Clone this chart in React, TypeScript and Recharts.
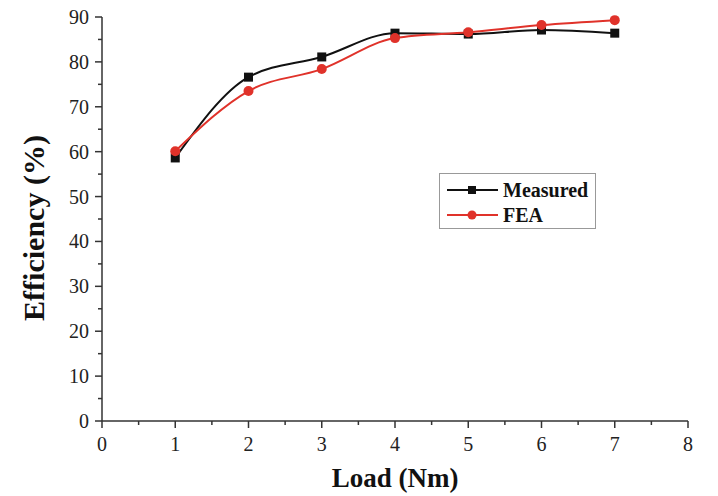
import { LineChart, Line, XAxis, YAxis, Legend } from 'recharts';

// load points (Nm) and efficiency values (%)
const loads = [1, 2, 3, 4, 5, 6, 7];
const measured = [58.6, 76.6, 81.1, 86.4, 86.2, 87.1, 86.4];
const fea = [60.1, 73.5, 78.4, 85.3, 86.6, 88.2, 89.3];

// major + minor ticks
const xTicks = [0, 0.5, 1, 1.5, 2, 2.5, 3, 3.5, 4, 4.5, 5, 5.5, 6, 6.5, 7, 7.5, 8];
const yTicks = [0, 5, 10, 15, 20, 25, 30, 35, 40, 45, 50, 55, 60, 65, 70, 75, 80, 85, 90];

const data = loads.map((load, i) => ({ load, measured: measured[i], fea: fea[i] }));

const FONT = '"Liberation Serif", "Times New Roman", serif';
const AXIS = '#333';
const RED = '#e0322a';
const BLACK = '#111';

function XTick({ x, y, payload }: any) {
  const v = payload.value;
  const major = Number.isInteger(v);
  const ay = y - 16;
  return (
    <g>
      <line x1={x} x2={x} y1={ay} y2={ay + (major ? 7 : 4)} stroke={AXIS} strokeWidth={1.5} />
      {major && (
        <text x={x} y={ay + 30} textAnchor="middle" fontSize={20} fill="#222" fontFamily={FONT}>
          {v}
        </text>
      )}
    </g>
  );
}

function YTick({ x, y, payload }: any) {
  const v = payload.value;
  const major = v % 10 === 0;
  const ax = x + 14;
  return (
    <g>
      <line x1={ax} x2={ax - (major ? 7 : 4)} y1={y} y2={y} stroke={AXIS} strokeWidth={1.5} />
      {major && (
        <text x={ax - 13} y={y + 7} textAnchor="end" fontSize={20} fill="#222" fontFamily={FONT}>
          {v}
        </text>
      )}
    </g>
  );
}

function SquareDot(props: any) {
  const { cx, cy, index } = props;
  return <rect key={`sq-${index}`} x={cx - 4.5} y={cy - 4.5} width={9} height={9} fill={BLACK} />;
}

function CircleDot(props: any) {
  const { cx, cy, index } = props;
  return <circle key={`ci-${index}`} cx={cx} cy={cy} r={5} fill={RED} />;
}

function LegendBox() {
  const rows = [
    { name: 'Measured', color: BLACK, square: true },
    { name: 'FEA', color: RED, square: false },
  ];
  return (
    <svg width={157} height={56} style={{ display: 'block' }}>
      <rect x={0.5} y={0.5} width={156} height={55} fill="#fff" stroke="#999" strokeWidth={1} />
      {rows.map((r, i) => {
        const cy = 17 + i * 25;
        return (
          <g key={r.name}>
            <line x1={8} x2={59} y1={cy} y2={cy} stroke={r.color} strokeWidth={2} />
            {r.square ? (
              <rect x={29} y={cy - 4} width={8} height={8} fill={r.color} />
            ) : (
              <circle cx={33} cy={cy} r={4.5} fill={r.color} />
            )}
            <text x={64} y={cy + 7} fontSize={20} fontWeight="bold" fill="#111" fontFamily={FONT}>
              {r.name}
            </text>
          </g>
        );
      })}
    </svg>
  );
}

export default function App() {
  return (
    <div style={{ position: 'absolute', left: 0, top: 0, width: 718, height: 496, background: '#fff' }}>
      <LineChart
        width={718}
        height={496}
        data={data}
        margin={{ top: 17, right: 30, bottom: 0, left: 0 }}
        style={{ fontFamily: FONT }}
      >
        <XAxis
          dataKey="load"
          type="number"
          domain={[0, 8]}
          ticks={xTicks}
          interval={0}
          height={75}
          tickSize={6}
          tickMargin={10}
          tickLine={false}
          axisLine={{ stroke: AXIS, strokeWidth: 1.5 }}
          tick={<XTick />}
          label={{
            content: ({ viewBox }: any) => (
              <text
                x={viewBox.x + viewBox.width / 2}
                y={viewBox.y + 66}
                textAnchor="middle"
                fontSize={27}
                fontWeight="bold"
                fill="#111"
                fontFamily={FONT}
              >
                Load (Nm)
              </text>
            ),
          }}
        />
        <YAxis
          type="number"
          domain={[0, 90]}
          ticks={yTicks}
          interval={0}
          width={102}
          tickSize={6}
          tickMargin={8}
          tickLine={false}
          axisLine={{ stroke: AXIS, strokeWidth: 1.5 }}
          tick={<YTick />}
          label={{
            content: ({ viewBox }: any) => {
              const cx = viewBox.x + 44;
              const cy = viewBox.y + viewBox.height / 2 + 9;
              return (
                <text
                  x={cx}
                  y={cy}
                  transform={`rotate(-90 ${cx} ${cy})`}
                  textAnchor="middle"
                  fontSize={30}
                  fontWeight="bold"
                  fill="#111"
                  fontFamily={FONT}
                >
                  Efficiency (%)
                </text>
              );
            },
          }}
        />
        <Legend
          layout="horizontal"
          verticalAlign="middle"
          align="center"
          content={() => <LegendBox />}
          wrapperStyle={{ left: 439, top: 173, width: 157, height: 56 }}
        />
        <Line
          type="monotone"
          dataKey="measured"
          name="Measured"
          stroke={BLACK}
          strokeWidth={2}
          dot={SquareDot}
          activeDot={false}
          isAnimationActive={false}
        />
        <Line
          type="monotone"
          dataKey="fea"
          name="FEA"
          stroke={RED}
          strokeWidth={2}
          dot={CircleDot}
          activeDot={false}
          isAnimationActive={false}
        />
      </LineChart>
    </div>
  );
}
